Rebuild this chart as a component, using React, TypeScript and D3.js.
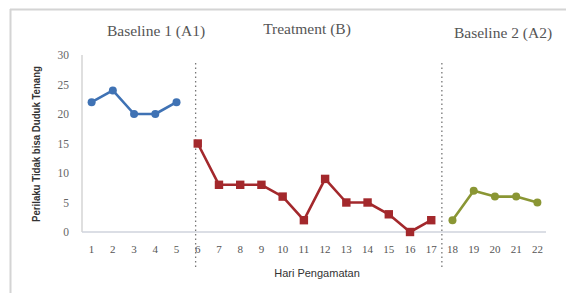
import React, { useEffect, useRef } from 'react';
import * as d3 from 'd3';

const days = d3.range(1, 23).map(String);
const baseline1 = [22, 24, 20, 20, 22];
const treatment = [15, 8, 8, 8, 6, 2, 9, 5, 5, 3, 0, 2];
const baseline2 = [2, 7, 6, 6, 5];
const yTicks = [0, 5, 10, 15, 20, 25, 30];
const phaseTitles = ['Baseline 1 (A1)', 'Treatment (B)', 'Baseline 2 (A2)'];

const W = 566;
const H = 293;

export default function App() {
  const ref = useRef<SVGSVGElement>(null);

  useEffect(() => {
    const svg = d3.select(ref.current);
    svg.selectAll('*').remove();

    // frame edges from the pasted excel picture (only top & left show)
    svg.append('line')
      .attr('x1', 10).attr('x2', W).attr('y1', 9.5).attr('y2', 9.5)
      .attr('stroke', '#d4d4d4').attr('stroke-width', 2);
    svg.append('line')
      .attr('x1', 10.5).attr('x2', 10.5).attr('y1', 9).attr('y2', H)
      .attr('stroke', '#d4d4d4').attr('stroke-width', 2);

    const x = d3.scaleBand().domain(days).range([81, 548]);
    const y = d3.scaleLinear().domain([0, 30]).range([232, 55]);
    const cx = (i: number) => x(days[0])! + x.bandwidth() / 2 + i * x.step();

    // axes
    svg.append('line')
      .attr('x1', 82).attr('x2', 82).attr('y1', 55).attr('y2', 232)
      .attr('stroke', '#d5d5d5').attr('stroke-width', 1.5);
    svg.append('line')
      .attr('x1', 82).attr('x2', 546).attr('y1', 232).attr('y2', 232)
      .attr('stroke', '#cfd3dc').attr('stroke-width', 1.5);

    svg.append('g').selectAll('text').data(yTicks).join('text')
      .attr('x', 69).attr('y', d => y(d) + 4)
      .attr('text-anchor', 'end')
      .attr('font-family', 'Liberation Serif, serif').attr('font-size', 11.5)
      .attr('fill', '#666').text(d => d);

    svg.append('g').selectAll('text').data(days).join('text')
      .attr('x', d => x(d)! + x.bandwidth() / 2).attr('y', 253)
      .attr('text-anchor', 'middle')
      .attr('font-family', 'Liberation Serif, serif').attr('font-size', 11)
      .attr('fill', '#555').text(d => d);

    // phase separators
    [4.9, 16.5].forEach(p => {
      svg.append('line')
        .attr('x1', cx(p)).attr('x2', cx(p)).attr('y1', 63).attr('y2', 270)
        .attr('stroke', '#777').attr('stroke-width', 1.3)
        .attr('stroke-dasharray', '1.5,3');
    });

    // phase titles
    const titleX = [156, 307, 503];
    const titleY = [36, 34, 38];
    phaseTitles.forEach((t, i) => {
      svg.append('text')
        .attr('x', titleX[i]).attr('y', titleY[i])
        .attr('text-anchor', 'middle')
        .attr('font-family', 'Liberation Serif, serif').attr('font-size', 15.5)
        .attr('fill', '#555').text(t);
    });

    const line = d3.line<[number, number]>().x(d => d[0]).y(d => d[1]);

    const series = [
      { vals: baseline1, start: 0, color: '#3f72b4', shape: 'circle' },
      { vals: treatment, start: 5, color: '#a3282c', shape: 'square' },
      { vals: baseline2, start: 17, color: '#8a9634', shape: 'circle' },
    ];

    series.forEach(s => {
      const pts: [number, number][] = s.vals.map((v, i) => [cx(s.start + i), y(v)]);
      svg.append('path')
        .attr('d', line(pts)!)
        .attr('fill', 'none').attr('stroke', s.color).attr('stroke-width', 2.6)
        .attr('stroke-linejoin', 'round');
      if (s.shape === 'circle') {
        svg.append('g').selectAll('circle').data(pts).join('circle')
          .attr('cx', d => d[0]).attr('cy', d => d[1]).attr('r', 4)
          .attr('fill', s.color);
      } else {
        svg.append('g').selectAll('rect').data(pts).join('rect')
          .attr('x', d => d[0] - 4.2).attr('y', d => d[1] - 4.2)
          .attr('width', 8.4).attr('height', 8.4)
          .attr('fill', s.color);
      }
    });

    // axis titles
    svg.append('text')
      .attr('transform', `translate(40,144) rotate(-90)`)
      .attr('text-anchor', 'middle')
      .attr('font-family', 'Liberation Sans Narrow, Liberation Sans, sans-serif').attr('font-size', 10)
      .attr('font-weight', 'bold').attr('fill', '#333')
      .attr('textLength', 156).attr('lengthAdjust', 'spacingAndGlyphs')
      .text('Perilaku Tidak bisa Duduk Tenang');

    svg.append('text')
      .attr('x', 317).attr('y', 277)
      .attr('text-anchor', 'middle')
      .attr('font-family', 'Liberation Sans, sans-serif').attr('font-size', 11)
      .attr('fill', '#333').text('Hari Pengamatan');
  }, []);

  return (
    <svg ref={ref} width={W} height={H}
      style={{ position: 'absolute', left: 0, top: 0, background: '#fff' }} />
  );
}
